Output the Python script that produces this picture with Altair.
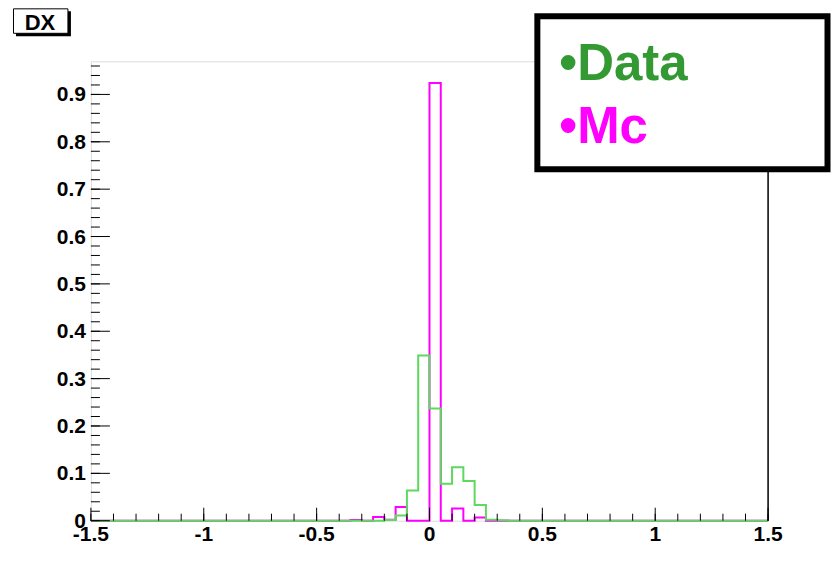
import altair as alt
import pandas as pd

# ---- data -------------------------------------------------------------
x_min, x_max, bin_w = -1.5, 1.5, 0.05
n_bins = 60
bin_lo = [round(x_min + bin_w * i, 2) for i in range(n_bins)]
edges = bin_lo + [x_max]

# histogram contents (normalised); index 30 = [0, 0.05)
data_vals = [0.0] * n_bins
data_vals[26] = 0.0015
data_vals[27] = 0.011
data_vals[28] = 0.064
data_vals[29] = 0.349
data_vals[30] = 0.237
data_vals[31] = 0.078
data_vals[32] = 0.113
data_vals[33] = 0.084
data_vals[34] = 0.033
data_vals[35] = 0.002
data_vals[36] = 0.001

mc_vals = [0.0] * n_bins
mc_vals[23] = 0.0015
mc_vals[25] = 0.008
mc_vals[26] = 0.002
mc_vals[27] = 0.029
mc_vals[30] = 0.924
mc_vals[32] = 0.026
mc_vals[34] = 0.007

x_major = [-1.5, -1.0, -0.5, 0.0, 0.5, 1.0, 1.5]
x_major_labels = ["-1.5", "-1", "-0.5", "0", "0.5", "1", "1.5"]
x_minor = [round(-1.5 + 0.1 * i, 1) for i in range(31)]
y_major = [0.0, 0.1, 0.2, 0.3, 0.4, 0.5, 0.6, 0.7, 0.8, 0.9]
y_major_labels = ["0", "0.1", "0.2", "0.3", "0.4", "0.5", "0.6", "0.7", "0.8", "0.9"]
y_minor = [round(0.02 * i, 2) for i in range(49)]

legend_labels = ["\u2022Data", "\u2022Mc"]
legend_colors = ["#339933", "#ff00ff"]
title_text = "DX"

W, H = 678, 460
FONT = "Liberation Sans"

xscale = alt.Scale(domain=[x_min, x_max], nice=False, zero=False)
yscale = alt.Scale(domain=[0, 0.97], nice=False)


def step_df(vals):
    return pd.DataFrame({"x": edges, "y": vals + [vals[-1]]})


x_axis = alt.Axis(labels=False, ticks=False, grid=False, domainColor="black",
                  domainWidth=1.5, title=None)
y_axis = alt.Axis(labels=False, ticks=False, grid=False, domainColor="black",
                  domainWidth=1.5, title=None)

mc_line = alt.Chart(step_df(mc_vals)).mark_line(
    interpolate="step-after", color="#ff00ff", strokeWidth=2
).encode(x=alt.X("x:Q", scale=xscale, axis=x_axis),
         y=alt.Y("y:Q", scale=yscale, axis=y_axis))

data_line = alt.Chart(step_df(data_vals)).mark_line(
    interpolate="step-after", color="#5ed85e", strokeWidth=2
).encode(x=alt.X("x:Q", scale=xscale, axis=None),
         y=alt.Y("y:Q", scale=yscale, axis=None))

# inward ticks (ROOT style)
xt_minor = alt.Chart(pd.DataFrame({"t": x_minor})).mark_rule(color="black", strokeWidth=1).encode(
    x=alt.X("t:Q", scale=xscale, axis=None), y=alt.value(H), y2=alt.value(H - 7))
xt_major = alt.Chart(pd.DataFrame({"t": x_major})).mark_rule(color="black", strokeWidth=1).encode(
    x=alt.X("t:Q", scale=xscale, axis=None), y=alt.value(H), y2=alt.value(H - 13))
yt_minor = alt.Chart(pd.DataFrame({"t": y_minor})).mark_rule(color="black", strokeWidth=1).encode(
    y=alt.Y("t:Q", scale=yscale, axis=None), x=alt.value(0), x2=alt.value(9))
yt_major = alt.Chart(pd.DataFrame({"t": y_major})).mark_rule(color="black", strokeWidth=1).encode(
    y=alt.Y("t:Q", scale=yscale, axis=None), x=alt.value(0), x2=alt.value(19))

# tick labels
xl = alt.Chart(pd.DataFrame({"t": x_major, "lab": x_major_labels})).mark_text(
    font=FONT, fontWeight="bold", fontSize=21, color="black",
    align="center", baseline="alphabetic"
).encode(x=alt.X("t:Q", scale=xscale, axis=None), y=alt.value(H + 20), text="lab:N")
yl = alt.Chart(pd.DataFrame({"t": y_major, "lab": y_major_labels})).mark_text(
    font=FONT, fontWeight="bold", fontSize=21, color="black",
    align="right", baseline="alphabetic", dy=7
).encode(y=alt.Y("t:Q", scale=yscale, axis=None), x=alt.value(-5), text="lab:N")

one = pd.DataFrame({"a": [0]})
right_border = alt.Chart(one).mark_rule(color="black", strokeWidth=1.5).encode(
    x=alt.value(W), y=alt.value(0), y2=alt.value(H))

# title box "DX"
dx_shadow = alt.Chart(one).mark_rect(color="black").encode(
    x=alt.value(-75), x2=alt.value(-20), y=alt.value(-50), y2=alt.value(-25))
dx_box = alt.Chart(one).mark_rect(fill="white", stroke="black", strokeWidth=1).encode(
    x=alt.value(-77.5), x2=alt.value(-23), y=alt.value(-52.5), y2=alt.value(-28))
dx_text = alt.Chart(one).mark_text(
    text=title_text, font=FONT, fontWeight="bold", fontSize=22, color="black",
    align="center", baseline="alphabetic"
).encode(x=alt.value(-51), y=alt.value(-31))

# legend box
leg_box = alt.Chart(one).mark_rect(fill="white", stroke="black", strokeWidth=6).encode(
    x=alt.value(447), x2=alt.value(737.5), y=alt.value(-45), y2=alt.value(108))
leg_rows = [19, 82]
leg_layers = [
    alt.Chart(one).mark_text(
        text=lab, color=col, font=FONT, fontWeight="bold", fontSize=51,
        align="left", baseline="alphabetic"
    ).encode(x=alt.value(469), y=alt.value(yy))
    for lab, col, yy in zip(legend_labels, legend_colors, leg_rows)
]

chart = alt.layer(
    mc_line, data_line, xt_minor, xt_major, yt_minor, yt_major, xl, yl, right_border,
    dx_shadow, dx_box, dx_text, leg_box, *leg_layers
).properties(
    width=W, height=H,
    autosize=alt.AutoSizeParams(type="none"),
    padding={"left": 83, "top": 53, "right": 64, "bottom": 40},
).configure_view(stroke="#aaaaaa", strokeWidth=1.5).configure(background="white")

chart.save("out.html", embed_options={"renderer": "svg", "actions": False})
